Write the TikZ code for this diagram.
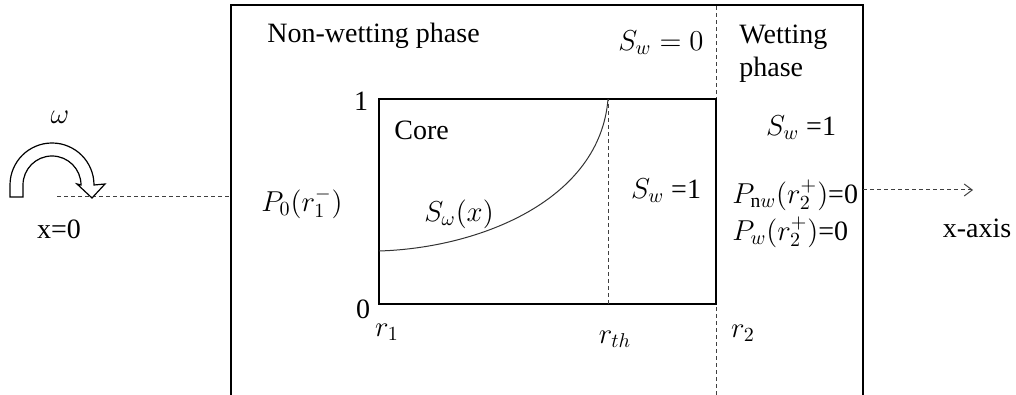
\documentclass[tikz,border=0pt]{standalone}
\usepackage{fontspec}
\setmainfont{Liberation Serif}
\usetikzlibrary{arrows.meta}

\begin{document}
\begin{tikzpicture}[x=0.5pt, y=0.5pt,
    every node/.style={font=\fontsize{14}{16.5}\selectfont, inner sep=1pt},
    wall/.style={line width=1pt},
    guide/.style={line width=0.5pt, black!75, dash pattern=on 2pt off 1.5pt}]
  \useasboundingbox (0,0) rectangle (1016,395);

  % Outer tube (open at the bottom)
  \draw[wall] (231,0) -- (231,390) -- (863,390) -- (863,0);
  \draw[guide] (716,0) -- (716,390);
  \node[anchor=base west] (nwp) at (265,352) {Non-wetting phase};
  \node (swzero) at (661,352) {$S_w = 0$};
  \node[anchor=base west, align=left] (wp) at (737,318) {Wetting\\phase};
  \node (swright) at (801,267) {$S_w$ =1};

  % Core box
  \draw[wall] (379,91) rectangle (716,296);
  \draw[guide] (608,91) -- (608,296);
  \node[anchor=base west] (core) at (392,255) {Core};
  \node (one) at (361,294) {1};
  \node (zero) at (363,86) {0};
  \node (rone) at (387,63) {$r_1$};
  \node (rth) at (615,56) {$r_{th}$};
  \node (rtwo) at (743,62) {$r_2$};

  % Saturation profile
  \draw[line width=0.5pt, black!80] (379,144) .. controls (480,147) and (600,195) .. (608,296);
  \node (satw) at (459,181) {$S_\omega(x)$};
  \node (swin) at (666,204) {$S_w$ =1};

  % Boundary pressures
  \node (pzero) at (302,192) {$P_0(r_1^-)$};
  \node[anchor=west, inner sep=0pt] (pnw) at (732,200) {$P_{\mathrm{n}w}(r_2^+)$=0};
  \node[anchor=west, inner sep=0pt] (pw) at (732,163) {$P_w(r_2^+)$=0};

  % Rotation and x-axis
  \coordinate (xzero) at (57,198);
  \coordinate (wallL) at (231,198);
  \coordinate (wallR) at (863,205);
  \coordinate (xend) at (973,205);
  \draw[guide] (xzero) -- (wallL);
  \draw[guide, -{Straight Barb[length=4pt, width=6pt]}] (wallR) -- (xend);
  \node (xaxis) at (977,167) {x-axis};
  \node (origin) at (59,166) {x=0};
  \fill[white] (10,198) -- (10,210) arc[start angle=180, end angle=0, radius=42]
    -- (105,211) -- (92,197) -- (77,211) -- (81,210)
    arc[start angle=0, end angle=180, radius=29] -- (23,198) -- cycle;
  \draw[line width=0.6pt] (10,198) -- (10,210) arc[start angle=180, end angle=0, radius=42]
    -- (105,211) -- (92,197) -- (77,211) -- (81,210)
    arc[start angle=0, end angle=180, radius=29] -- (23,198) -- cycle;
  \node (omega) at (60,278) {$\omega$};
\end{tikzpicture}
\end{document}
